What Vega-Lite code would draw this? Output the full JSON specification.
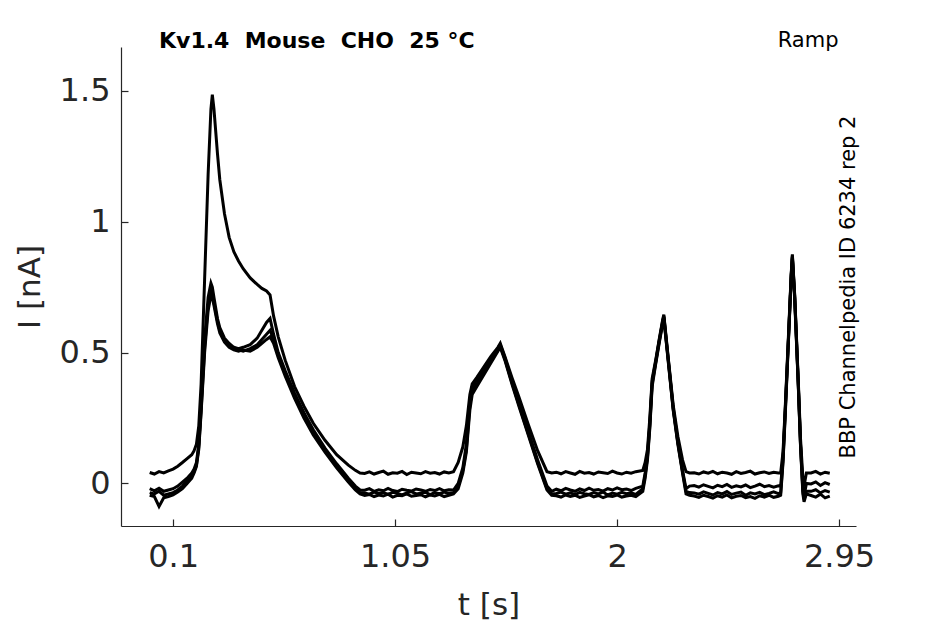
{
  "$schema": "https://vega.github.io/schema/vega-lite/v6.json",
  "width": 735,
  "height": 479,
  "autosize": {"type": "none"},
  "padding": {"left": 121, "top": 47, "right": 89, "bottom": 98},
  "background": "white",
  "title": {
    "text": "Kv1.4 \u00a0Mouse \u00a0CHO \u00a025 °C",
    "anchor": "start",
    "frame": "group",
    "dx": 38,
    "offset": -41,
    "baseline": "alphabetic",
    "font": "DejaVu Sans",
    "fontSize": 22,
    "fontWeight": "bold",
    "color": "black"
  },
  "data": {
    "values": [
      {"t": 0, "s1": 0.042, "s2": -0.02, "s3": -0.035, "s4": -0.045},
      {"t": 0.02, "s1": 0.036, "s2": -0.028, "s3": -0.04, "s4": -0.05},
      {"t": 0.04, "s1": 0.045, "s2": -0.018, "s3": -0.03, "s4": -0.088},
      {"t": 0.06, "s1": 0.04, "s2": -0.03, "s3": -0.045, "s4": -0.055},
      {"t": 0.08, "s1": 0.048, "s2": -0.025, "s3": -0.04, "s4": -0.05},
      {"t": 0.1, "s1": 0.055, "s2": -0.02, "s3": -0.035, "s4": -0.044},
      {"t": 0.12, "s1": 0.066, "s2": -0.01, "s3": -0.025, "s4": -0.033},
      {"t": 0.14, "s1": 0.08, "s2": 0.005, "s3": -0.01, "s4": -0.02},
      {"t": 0.16, "s1": 0.095, "s2": 0.02, "s3": 0.01, "s4": 0.0},
      {"t": 0.18, "s1": 0.11, "s2": 0.04, "s3": 0.03, "s4": 0.02},
      {"t": 0.19, "s1": 0.125, "s2": 0.055, "s3": 0.045, "s4": 0.04},
      {"t": 0.2, "s1": 0.15, "s2": 0.08, "s3": 0.07, "s4": 0.065},
      {"t": 0.21, "s1": 0.22, "s2": 0.15, "s3": 0.14, "s4": 0.13},
      {"t": 0.22, "s1": 0.38, "s2": 0.3, "s3": 0.28, "s4": 0.27},
      {"t": 0.235, "s1": 0.78, "s2": 0.55, "s3": 0.52, "s4": 0.5},
      {"t": 0.25, "s1": 1.18, "s2": 0.71, "s3": 0.68, "s4": 0.66},
      {"t": 0.262, "s1": 1.43, "s2": 0.765, "s3": 0.74, "s4": 0.72},
      {"t": 0.268, "s1": 1.485, "s2": 0.75, "s3": 0.73, "s4": 0.71},
      {"t": 0.275, "s1": 1.43, "s2": 0.71, "s3": 0.69, "s4": 0.68},
      {"t": 0.29, "s1": 1.26, "s2": 0.63, "s3": 0.62, "s4": 0.61},
      {"t": 0.3, "s1": 1.16, "s2": 0.595, "s3": 0.585, "s4": 0.575},
      {"t": 0.32, "s1": 1.03, "s2": 0.555, "s3": 0.545, "s4": 0.54},
      {"t": 0.34, "s1": 0.94, "s2": 0.535, "s3": 0.525, "s4": 0.52},
      {"t": 0.36, "s1": 0.885, "s2": 0.52, "s3": 0.515, "s4": 0.51},
      {"t": 0.38, "s1": 0.85, "s2": 0.515, "s3": 0.51, "s4": 0.505},
      {"t": 0.4, "s1": 0.82, "s2": 0.52, "s3": 0.505, "s4": 0.51},
      {"t": 0.43, "s1": 0.785, "s2": 0.53, "s3": 0.515, "s4": 0.505},
      {"t": 0.46, "s1": 0.76, "s2": 0.555, "s3": 0.53, "s4": 0.52},
      {"t": 0.48, "s1": 0.745, "s2": 0.585, "s3": 0.55, "s4": 0.535},
      {"t": 0.5, "s1": 0.735, "s2": 0.615, "s3": 0.57, "s4": 0.55},
      {"t": 0.515, "s1": 0.72, "s2": 0.63, "s3": 0.585, "s4": 0.56},
      {"t": 0.53, "s1": 0.64, "s2": 0.57, "s3": 0.55, "s4": 0.535},
      {"t": 0.55, "s1": 0.56, "s2": 0.5, "s3": 0.49, "s4": 0.48},
      {"t": 0.58, "s1": 0.47, "s2": 0.43, "s3": 0.42, "s4": 0.41},
      {"t": 0.62, "s1": 0.37, "s2": 0.345, "s3": 0.335, "s4": 0.325},
      {"t": 0.66, "s1": 0.295, "s2": 0.27, "s3": 0.26, "s4": 0.25},
      {"t": 0.7, "s1": 0.23, "s2": 0.205, "s3": 0.195, "s4": 0.185},
      {"t": 0.75, "s1": 0.165, "s2": 0.135, "s3": 0.125, "s4": 0.12},
      {"t": 0.8, "s1": 0.11, "s2": 0.075, "s3": 0.065, "s4": 0.06},
      {"t": 0.85, "s1": 0.07, "s2": 0.02, "s3": 0.01, "s4": 0.005},
      {"t": 0.88, "s1": 0.05, "s2": -0.01, "s3": -0.02, "s4": -0.025},
      {"t": 0.9, "s1": 0.04, "s2": -0.025, "s3": -0.035, "s4": -0.04},
      {"t": 0.92, "s1": 0.038, "s2": -0.026, "s3": -0.036, "s4": -0.046},
      {"t": 0.94, "s1": 0.044, "s2": -0.02, "s3": -0.041, "s4": -0.042},
      {"t": 0.96, "s1": 0.036, "s2": -0.03, "s3": -0.033, "s4": -0.05},
      {"t": 0.98, "s1": 0.042, "s2": -0.024, "s3": -0.039, "s4": -0.044},
      {"t": 1.0, "s1": 0.047, "s2": -0.028, "s3": -0.035, "s4": -0.048},
      {"t": 1.02, "s1": 0.035, "s2": -0.019, "s3": -0.042, "s4": -0.041},
      {"t": 1.04, "s1": 0.041, "s2": -0.027, "s3": -0.034, "s4": -0.052},
      {"t": 1.06, "s1": 0.039, "s2": -0.031, "s3": -0.038, "s4": -0.045},
      {"t": 1.08, "s1": 0.046, "s2": -0.022, "s3": -0.044, "s4": -0.047},
      {"t": 1.1, "s1": 0.034, "s2": -0.026, "s3": -0.036, "s4": -0.04},
      {"t": 1.12, "s1": 0.043, "s2": -0.029, "s3": -0.031, "s4": -0.049},
      {"t": 1.14, "s1": 0.04, "s2": -0.021, "s3": -0.04, "s4": -0.046},
      {"t": 1.16, "s1": 0.037, "s2": -0.025, "s3": -0.037, "s4": -0.043},
      {"t": 1.18, "s1": 0.045, "s2": -0.03, "s3": -0.034, "s4": -0.051},
      {"t": 1.2, "s1": 0.039, "s2": -0.023, "s3": -0.043, "s4": -0.044},
      {"t": 1.22, "s1": 0.042, "s2": -0.027, "s3": -0.035, "s4": -0.048},
      {"t": 1.24, "s1": 0.036, "s2": -0.02, "s3": -0.039, "s4": -0.042},
      {"t": 1.26, "s1": 0.044, "s2": -0.028, "s3": -0.033, "s4": -0.05},
      {"t": 1.28, "s1": 0.04, "s2": -0.024, "s3": -0.038, "s4": -0.045},
      {"t": 1.3, "s1": 0.045, "s2": -0.025, "s3": -0.035, "s4": -0.04},
      {"t": 1.32, "s1": 0.08, "s2": 0.0, "s3": -0.01, "s4": -0.02},
      {"t": 1.34, "s1": 0.14, "s2": 0.06, "s3": 0.05, "s4": 0.04},
      {"t": 1.355, "s1": 0.22, "s2": 0.15, "s3": 0.13, "s4": 0.12},
      {"t": 1.37, "s1": 0.34, "s2": 0.32, "s3": 0.3, "s4": 0.28},
      {"t": 1.38, "s1": 0.38, "s2": 0.37, "s3": 0.355, "s4": 0.34},
      {"t": 1.4, "s1": 0.405, "s2": 0.395, "s3": 0.38, "s4": 0.37},
      {"t": 1.43, "s1": 0.445, "s2": 0.44, "s3": 0.425, "s4": 0.415},
      {"t": 1.46, "s1": 0.485, "s2": 0.48, "s3": 0.47, "s4": 0.46},
      {"t": 1.49, "s1": 0.52, "s2": 0.515, "s3": 0.51, "s4": 0.505},
      {"t": 1.5, "s1": 0.535, "s2": 0.53, "s3": 0.525, "s4": 0.52},
      {"t": 1.52, "s1": 0.485, "s2": 0.48, "s3": 0.475, "s4": 0.47},
      {"t": 1.55, "s1": 0.405, "s2": 0.39, "s3": 0.385, "s4": 0.38},
      {"t": 1.58, "s1": 0.33, "s2": 0.31, "s3": 0.3, "s4": 0.295},
      {"t": 1.62, "s1": 0.225, "s2": 0.2, "s3": 0.19, "s4": 0.185},
      {"t": 1.66, "s1": 0.125, "s2": 0.09, "s3": 0.08, "s4": 0.075},
      {"t": 1.7, "s1": 0.045, "s2": -0.01, "s3": -0.02, "s4": -0.025},
      {"t": 1.72, "s1": 0.04, "s2": -0.03, "s3": -0.04, "s4": -0.045},
      {"t": 1.74, "s1": 0.043, "s2": -0.022, "s3": -0.038, "s4": -0.047},
      {"t": 1.76, "s1": 0.037, "s2": -0.028, "s3": -0.033, "s4": -0.052},
      {"t": 1.78, "s1": 0.045, "s2": -0.019, "s3": -0.041, "s4": -0.044},
      {"t": 1.8, "s1": 0.04, "s2": -0.025, "s3": -0.036, "s4": -0.05},
      {"t": 1.82, "s1": 0.035, "s2": -0.03, "s3": -0.043, "s4": -0.045},
      {"t": 1.84, "s1": 0.046, "s2": -0.021, "s3": -0.034, "s4": -0.053},
      {"t": 1.86, "s1": 0.039, "s2": -0.027, "s3": -0.039, "s4": -0.048},
      {"t": 1.88, "s1": 0.042, "s2": -0.018, "s3": -0.042, "s4": -0.043},
      {"t": 1.9, "s1": 0.036, "s2": -0.026, "s3": -0.035, "s4": -0.051},
      {"t": 1.92, "s1": 0.044, "s2": -0.023, "s3": -0.04, "s4": -0.046},
      {"t": 1.94, "s1": 0.041, "s2": -0.029, "s3": -0.033, "s4": -0.054},
      {"t": 1.96, "s1": 0.038, "s2": -0.02, "s3": -0.044, "s4": -0.047},
      {"t": 1.98, "s1": 0.047, "s2": -0.025, "s3": -0.037, "s4": -0.05},
      {"t": 2.0, "s1": 0.04, "s2": -0.017, "s3": -0.041, "s4": -0.044},
      {"t": 2.02, "s1": 0.036, "s2": -0.024, "s3": -0.034, "s4": -0.052},
      {"t": 2.04, "s1": 0.043, "s2": -0.021, "s3": -0.039, "s4": -0.048},
      {"t": 2.06, "s1": 0.039, "s2": -0.027, "s3": -0.036, "s4": -0.045},
      {"t": 2.08, "s1": 0.045, "s2": -0.019, "s3": -0.042, "s4": -0.05},
      {"t": 2.11, "s1": 0.05, "s2": -0.01, "s3": -0.02, "s4": -0.03},
      {"t": 2.12, "s1": 0.08, "s2": 0.04, "s3": 0.03, "s4": 0.02},
      {"t": 2.13, "s1": 0.13, "s2": 0.11, "s3": 0.1, "s4": 0.09},
      {"t": 2.14, "s1": 0.25, "s2": 0.23, "s3": 0.22, "s4": 0.21},
      {"t": 2.15, "s1": 0.4, "s2": 0.39, "s3": 0.38, "s4": 0.37},
      {"t": 2.165, "s1": 0.47, "s2": 0.465, "s3": 0.46, "s4": 0.455},
      {"t": 2.18, "s1": 0.55, "s2": 0.545, "s3": 0.54, "s4": 0.535},
      {"t": 2.195, "s1": 0.625, "s2": 0.62, "s3": 0.615, "s4": 0.61},
      {"t": 2.2, "s1": 0.645, "s2": 0.64, "s3": 0.635, "s4": 0.63},
      {"t": 2.22, "s1": 0.47, "s2": 0.465, "s3": 0.46, "s4": 0.455},
      {"t": 2.24, "s1": 0.3, "s2": 0.29, "s3": 0.285, "s4": 0.28},
      {"t": 2.26, "s1": 0.18, "s2": 0.16, "s3": 0.155, "s4": 0.15},
      {"t": 2.28, "s1": 0.09, "s2": 0.05, "s3": 0.045, "s4": 0.04},
      {"t": 2.295, "s1": 0.045, "s2": -0.02, "s3": -0.03, "s4": -0.04},
      {"t": 2.31, "s1": 0.04, "s2": -0.01, "s3": -0.035, "s4": -0.045},
      {"t": 2.33, "s1": 0.041, "s2": -0.008, "s3": -0.036, "s4": -0.048},
      {"t": 2.35, "s1": 0.036, "s2": -0.014, "s3": -0.041, "s4": -0.053},
      {"t": 2.37, "s1": 0.044, "s2": -0.005, "s3": -0.032, "s4": -0.045},
      {"t": 2.39, "s1": 0.039, "s2": -0.011, "s3": -0.038, "s4": -0.05},
      {"t": 2.41, "s1": 0.046, "s2": -0.017, "s3": -0.044, "s4": -0.056},
      {"t": 2.43, "s1": 0.037, "s2": -0.007, "s3": -0.035, "s4": -0.047},
      {"t": 2.45, "s1": 0.043, "s2": -0.012, "s3": -0.04, "s4": -0.052},
      {"t": 2.47, "s1": 0.04, "s2": -0.004, "s3": -0.031, "s4": -0.044},
      {"t": 2.49, "s1": 0.035, "s2": -0.015, "s3": -0.042, "s4": -0.055},
      {"t": 2.51, "s1": 0.045, "s2": -0.009, "s3": -0.037, "s4": -0.049},
      {"t": 2.53, "s1": 0.038, "s2": -0.013, "s3": -0.033, "s4": -0.046},
      {"t": 2.55, "s1": 0.042, "s2": -0.006, "s3": -0.045, "s4": -0.054},
      {"t": 2.57, "s1": 0.047, "s2": -0.016, "s3": -0.036, "s4": -0.05},
      {"t": 2.59, "s1": 0.036, "s2": -0.01, "s3": -0.04, "s4": -0.057},
      {"t": 2.61, "s1": 0.041, "s2": -0.003, "s3": -0.034, "s4": -0.047},
      {"t": 2.63, "s1": 0.044, "s2": -0.012, "s3": -0.043, "s4": -0.052},
      {"t": 2.65, "s1": 0.038, "s2": -0.008, "s3": -0.038, "s4": -0.045},
      {"t": 2.67, "s1": 0.043, "s2": -0.014, "s3": -0.032, "s4": -0.053},
      {"t": 2.69, "s1": 0.04, "s2": -0.009, "s3": -0.039, "s4": -0.049},
      {"t": 2.7, "s1": 0.04, "s2": -0.01, "s3": -0.035, "s4": -0.045},
      {"t": 2.71, "s1": 0.12, "s2": 0.1, "s3": 0.09, "s4": 0.08},
      {"t": 2.72, "s1": 0.3, "s2": 0.29, "s3": 0.28, "s4": 0.27},
      {"t": 2.735, "s1": 0.6, "s2": 0.59, "s3": 0.585, "s4": 0.58},
      {"t": 2.745, "s1": 0.8, "s2": 0.795, "s3": 0.79, "s4": 0.785},
      {"t": 2.75, "s1": 0.875, "s2": 0.87, "s3": 0.865, "s4": 0.86},
      {"t": 2.76, "s1": 0.72, "s2": 0.715, "s3": 0.71, "s4": 0.7},
      {"t": 2.775, "s1": 0.4, "s2": 0.39, "s3": 0.385, "s4": 0.38},
      {"t": 2.785, "s1": 0.17, "s2": 0.15, "s3": 0.145, "s4": 0.14},
      {"t": 2.795, "s1": 0.02, "s2": -0.02, "s3": -0.03, "s4": -0.04},
      {"t": 2.8, "s1": -0.01, "s2": -0.05, "s3": -0.06, "s4": -0.07},
      {"t": 2.81, "s1": 0.04, "s2": 0.0, "s3": -0.03, "s4": -0.04},
      {"t": 2.83, "s1": 0.04, "s2": -0.002, "s3": -0.03, "s4": -0.046},
      {"t": 2.85, "s1": 0.046, "s2": 0.006, "s3": -0.024, "s4": -0.052},
      {"t": 2.87, "s1": 0.036, "s2": -0.008, "s3": -0.036, "s4": -0.041},
      {"t": 2.89, "s1": 0.043, "s2": 0.003, "s3": -0.027, "s4": -0.055},
      {"t": 2.91, "s1": 0.039, "s2": -0.004, "s3": -0.033, "s4": -0.048}
    ]
  },
  "transform": [{"fold": ["s1", "s2", "s3", "s4"], "as": ["sweep", "current"]}],
  "layer": [
    {
      "mark": {"type": "line", "color": "black", "strokeWidth": 3, "clip": true},
      "encoding": {
        "x": {
          "field": "t", "type": "quantitative",
          "scale": {"domain": [-0.1228, 3.0223], "nice": false, "zero": false},
          "axis": {"values": [0.1, 1.05, 2, 2.95], "format": ".3~g", "title": "t [s]",
                   "titleY": 88, "titleBaseline": "alphabetic", "labelPadding": 22}
        },
        "y": {
          "field": "current", "type": "quantitative",
          "scale": {"domain": [-0.1625, 1.667], "nice": false, "zero": false},
          "axis": {"values": [0, 0.5, 1, 1.5], "format": ".2~g", "title": "I [nA]",
                   "titleX": -82, "titleBaseline": "alphabetic", "labelPadding": 18}
        },
        "detail": {"field": "sweep", "type": "nominal"}
      }
    },
    {
      "mark": {"type": "line", "strokeOpacity": 0},
      "encoding": {
        "x": {
          "field": "t", "type": "quantitative",
          "axis": {"orient": "top", "title": "Ramp", "domain": false, "ticks": false, "labels": false,
                   "titleFontSize": 21, "titleColor": "black", "titleAlign": "right", "titleAnchor": "end",
                   "titleX": 717, "titleY": -1, "titleBaseline": "alphabetic"}
        },
        "y": {
          "field": "current", "type": "quantitative",
          "axis": {"orient": "right", "title": "BBP Channelpedia ID 6234 rep 2", "domain": false, "ticks": false,
                   "labels": false, "titleFontSize": 21, "titleColor": "black", "titleAngle": 270,
                   "titleX": -2, "titleBaseline": "alphabetic"}
        },
        "detail": {"field": "sweep", "type": "nominal"}
      }
    }
  ],
  "resolve": {"axis": {"x": "independent", "y": "independent"}},
  "config": {
    "view": {"stroke": null},
    "axis": {
      "grid": false,
      "domainColor": "#262626",
      "domainWidth": 1.2,
      "tickColor": "#262626",
      "tickSize": -7,
      "tickWidth": 1.2,
      "labelFont": "DejaVu Sans",
      "labelFontSize": 32,
      "labelColor": "#262626",
      "titleFont": "DejaVu Sans",
      "titleFontSize": 31,
      "titleFontWeight": "normal",
      "titleColor": "#262626"
    }
  }
}
